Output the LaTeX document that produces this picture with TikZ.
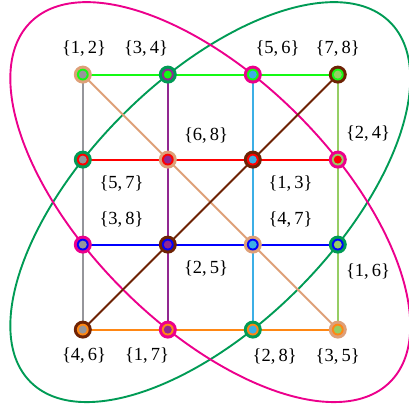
\documentclass[tikz,border=0pt]{standalone}
\usepackage{fontspec}
\setmainfont{Liberation Serif}
\usetikzlibrary{backgrounds}
\definecolor{cLime}{RGB}{20,250,20}
\definecolor{cRed}{RGB}{255,0,0}
\definecolor{cBlue}{RGB}{0,0,255}
\definecolor{cOrange}{RGB}{255,135,20}
\definecolor{cGray}{RGB}{150,150,155}
\definecolor{cPurple}{RGB}{145,40,145}
\definecolor{cCyan}{RGB}{60,175,230}
\definecolor{cLgreen}{RGB}{150,205,100}
\definecolor{cTan}{RGB}{222,160,120}
\definecolor{cBrown}{RGB}{110,35,5}
\definecolor{cEgreen}{RGB}{0,155,85}
\definecolor{cMagenta}{RGB}{236,0,140}
\begin{document}
\begin{tikzpicture}[x=1pt,y=-1pt,
  vtx/.style n args={3}{circle,inner sep=0pt,outer sep=0pt,minimum size=18pt,
    fill=#1,path picture={
      \fill[#2] (path picture bounding box.center) circle[radius=5.9pt];
      \fill[#3] (path picture bounding box.center) circle[radius=4.0pt];}},
  lab/.style={font=\fontsize{18.5}{20}\selectfont,inner sep=0pt},
  ln/.style={line width=1.9pt},
  loop/.style={line width=1.9pt}]
\useasboundingbox (0,0) rectangle (409,408);
% vertices
\node[vtx={cTan}{cLime}{cGray}]      (n11) at (82.8,74.6) {};
\node[vtx={cEgreen}{cPurple}{cLime}] (n12) at (167.8,74.6) {};
\node[vtx={cMagenta}{cLime}{cCyan}]  (n13) at (252.8,74.6) {};
\node[vtx={cBrown}{cLime}{cLgreen}]  (n14) at (337.8,74.6) {};
\node[vtx={cEgreen}{cRed}{cGray}]    (n21) at (82.8,159.6) {};
\node[vtx={cTan}{cRed}{cPurple}]     (n22) at (167.8,159.6) {};
\node[vtx={cBrown}{cRed}{cCyan}]     (n23) at (252.8,159.6) {};
\node[vtx={cMagenta}{cLgreen}{cRed}] (n24) at (337.8,159.6) {};
\node[vtx={cMagenta}{cBlue}{cGray}]  (n31) at (82.8,244.6) {};
\node[vtx={cBrown}{cBlue}{cPurple}]  (n32) at (167.8,244.6) {};
\node[vtx={cTan}{cBlue}{cCyan}]      (n33) at (252.8,244.6) {};
\node[vtx={cEgreen}{cBlue}{cLgreen}] (n34) at (337.8,244.6) {};
\node[vtx={cBrown}{cOrange}{cGray}]  (n41) at (82.8,329.6) {};
\node[vtx={cMagenta}{cOrange}{cPurple}] (n42) at (167.8,329.6) {};
\node[vtx={cEgreen}{cOrange}{cCyan}] (n43) at (252.8,329.6) {};
\node[vtx={cTan}{cOrange}{cLgreen}]  (n44) at (337.8,329.6) {};
% labels
\node[lab] (l11) at (84,48.3) {\{1,\,2\}};
\node[lab] (l12) at (146,48.3) {\{3,\,4\}};
\node[lab] (l13) at (277.5,48.3) {\{5,\,6\}};
\node[lab] (l14) at (337.7,48.3) {\{7,\,8\}};
\node[lab] (l22) at (206,135.5) {\{6,\,8\}};
\node[lab] (l24) at (368,133) {\{2,\,4\}};
\node[lab] (l21) at (121.5,183) {\{5,\,7\}};
\node[lab] (l23) at (290.5,183) {\{1,\,3\}};
\node[lab] (l31) at (121.5,219) {\{3,\,8\}};
\node[lab] (l33) at (290.5,219) {\{4,\,7\}};
\node[lab] (l32) at (206,268) {\{2,\,5\}};
\node[lab] (l34) at (368,271) {\{1,\,6\}};
\node[lab] (l41) at (84,355) {\{4,\,6\}};
\node[lab] (l42) at (147,355) {\{1,\,7\}};
\node[lab] (l43) at (274.7,356) {\{2,\,8\}};
\node[lab] (l44) at (337.7,356) {\{3,\,5\}};
\begin{scope}[on background layer]
% two big loops
\coordinate (ctr) at (210.3,202.1);
\draw[loop,cEgreen] (ctr) ellipse [x radius=254.3pt,y radius=123.6pt,rotate=45];
\draw[loop,cMagenta] (ctr) ellipse [x radius=254.3pt,y radius=123.6pt,rotate=-45];
% rows
\draw[ln,cLime] (n11.center) -- (n12.center) -- (n13.center) -- (n14.center);
\draw[ln,cRed] (n21.center) -- (n22.center) -- (n23.center) -- (n24.center);
\draw[ln,cBlue] (n31.center) -- (n32.center) -- (n33.center) -- (n34.center);
\draw[ln,cOrange] (n41.center) -- (n42.center) -- (n43.center) -- (n44.center);
% columns
\draw[ln,cGray] (n11.center) -- (n21.center) -- (n31.center) -- (n41.center);
\draw[ln,cPurple] (n12.center) -- (n22.center) -- (n32.center) -- (n42.center);
\draw[ln,cCyan] (n13.center) -- (n23.center) -- (n33.center) -- (n43.center);
\draw[ln,cLgreen] (n14.center) -- (n24.center) -- (n34.center) -- (n44.center);
% diagonals
\draw[ln,cTan] (n11.center) -- (n22.center) -- (n33.center) -- (n44.center);
\draw[ln,cBrown] (n41.center) -- (n32.center) -- (n23.center) -- (n14.center);
\end{scope}
\end{tikzpicture}
\end{document}
